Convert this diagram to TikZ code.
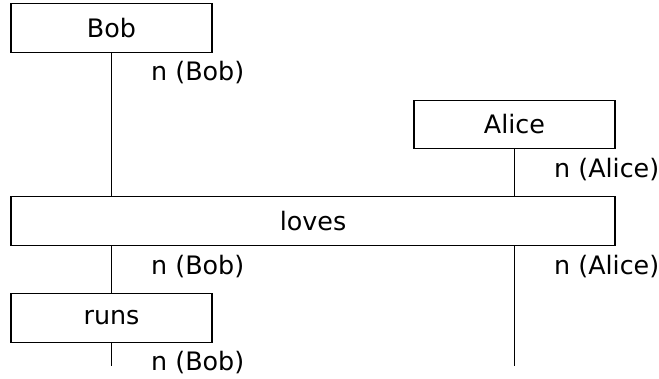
\documentclass[tikz,border=0pt]{standalone}
\usepackage{fontspec}
\setmainfont{DejaVu Sans}
\usepackage{tikz}
\usetikzlibrary{positioning, calc}

\begin{document}
\begin{tikzpicture}[
  x=1pt, y=-1pt,
  every node/.style={font=\fontsize{25.4}{30}\selectfont, inner sep=0pt},
  word/.style={draw, line width=1.4pt, minimum width=201pt, minimum height=48.5pt},
  wire/.style={line width=1.4pt},
  lbl/.style={anchor=west}
]
  \useasboundingbox (0, 0) rectangle (659, 378);

  % Words
  \node[word] (bob) at (111.5, 28) {Bob};
  \node[word] (alice) at (514.5, 124.5) {Alice};
  \node[word, minimum width=604pt] (loves) at (313, 221) {loves};
  \node[word] (runs) at (111.5, 318) {runs};

  % Open ends
  \coordinate (bobend) at (111.5, 366);
  \coordinate (aliceend) at (514.5, 366);

  % Wires
  \draw[wire] (bob.south) -- (bob |- loves.north);
  \draw[wire] (alice.south) -- (alice |- loves.north);
  \draw[wire] (loves.south -| runs) -- (runs.north);
  \draw[wire] (loves.south -| alice) -- (aliceend);
  \draw[wire] (runs.south) -- (bobend);

  % Types
  \node[lbl] (t1) at (151, 73) {n (Bob)};
  \node[lbl] (t2) at (554, 170) {n (Alice)};
  \node[lbl] (t3) at (151, 267) {n (Bob)};
  \node[lbl] (t4) at (554, 267) {n (Alice)};
  \node[lbl] (t5) at (151, 363) {n (Bob)};

\end{tikzpicture}
\end{document}
